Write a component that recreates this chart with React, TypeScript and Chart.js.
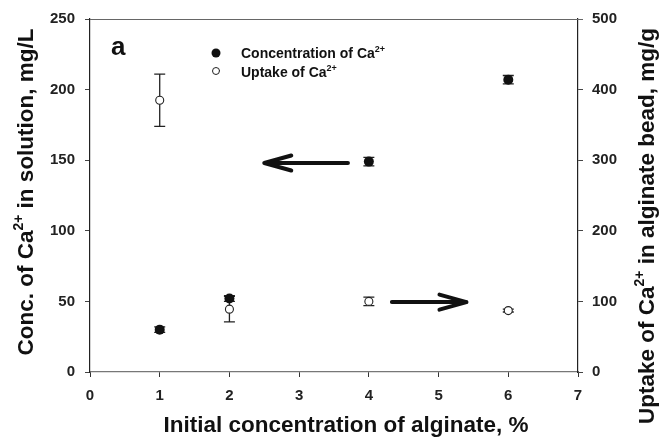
import React, { useEffect, useRef } from "react";
import { Chart, registerables } from "chart.js";

Chart.register(...registerables);

const alginate = [1, 2, 4, 6];
const concCa = [30, 52, 149, 207];
const concErr = [2, 2, 3, 3];
const uptakeCa = [385, 89, 100, 87];
const uptakeErr = [37, 18, 6, 2];

const xTicks = [0, 1, 2, 3, 4, 5, 6, 7];
const arrowFromX = [3.7, 4.33];
const arrowToX = [2.5, 5.4];
const arrowY = [148, 49.5];

const FONT = "'Liberation Sans', Arial, sans-serif";

function drawSup(ctx: CanvasRenderingContext2D, parts: [string, boolean][], size: number, x: number, y: number, align: "center" | "left") {
  const supSize = Math.round(size * 0.62);
  let total = 0;
  for (const [t, sup] of parts) {
    ctx.font = `bold ${sup ? supSize : size}px ${FONT}`;
    total += ctx.measureText(t).width;
  }
  let cx = align === "center" ? x - total / 2 : x;
  ctx.textAlign = "left";
  ctx.textBaseline = "alphabetic";
  for (const [t, sup] of parts) {
    ctx.font = `bold ${sup ? supSize : size}px ${FONT}`;
    ctx.fillText(t, cx, sup ? y - size * 0.45 : y);
    cx += ctx.measureText(t).width;
  }
}

const overlay = {
  id: "overlay",
  afterDatasetsDraw(chart: any) {
    const ctx = chart.ctx as CanvasRenderingContext2D;
    const xs = chart.scales.x;
    const yl = chart.scales.y;
    const yr = chart.scales.y2;
    const area = chart.chartArea;
    ctx.save();
    // frame top line
    ctx.strokeStyle = "#666";
    ctx.lineWidth = 1.2;
    ctx.beginPath();
    ctx.moveTo(area.left, area.top + 0.5);
    ctx.lineTo(area.right + 5, area.top + 0.5);
    ctx.stroke();

    // error bars
    const drawErr = (x: number, y: number, e: number, sc: any) => {
      const px = xs.getPixelForValue(x);
      const p1 = sc.getPixelForValue(y - e);
      const p2 = sc.getPixelForValue(y + e);
      ctx.strokeStyle = "#222";
      ctx.lineWidth = 1.3;
      ctx.beginPath();
      ctx.moveTo(px, p1);
      ctx.lineTo(px, p2);
      ctx.moveTo(px - 5.5, p1);
      ctx.lineTo(px + 5.5, p1);
      ctx.moveTo(px - 5.5, p2);
      ctx.lineTo(px + 5.5, p2);
      ctx.stroke();
    };
    alginate.forEach((x, i) => drawErr(x, uptakeCa[i], uptakeErr[i], yr));
    alginate.forEach((x, i) => drawErr(x, concCa[i], concErr[i], yl));

    // markers on top of error bars
    alginate.forEach((x, i) => {
      const px = xs.getPixelForValue(x);
      const py = yr.getPixelForValue(uptakeCa[i]);
      ctx.beginPath();
      ctx.arc(px, py, 4, 0, Math.PI * 2);
      ctx.fillStyle = "#fff";
      ctx.fill();
      ctx.strokeStyle = "#222";
      ctx.lineWidth = 1.1;
      ctx.stroke();
    });
    alginate.forEach((x, i) => {
      const px = xs.getPixelForValue(x);
      const py = yl.getPixelForValue(concCa[i]);
      ctx.beginPath();
      ctx.arc(px, py, 5, 0, Math.PI * 2);
      ctx.fillStyle = "#111";
      ctx.fill();
    });

    // arrows
    arrowFromX.forEach((fx, i) => {
      const x1 = xs.getPixelForValue(fx);
      const x2 = xs.getPixelForValue(arrowToX[i]);
      const y = yl.getPixelForValue(arrowY[i]);
      const dir = x2 > x1 ? 1 : -1;
      ctx.strokeStyle = "#111";
      ctx.lineWidth = 4;
      ctx.lineCap = "round";
      ctx.lineJoin = "round";
      ctx.beginPath();
      ctx.moveTo(x1, y);
      ctx.lineTo(x2, y);
      ctx.moveTo(x2 - dir * 27, y - 7.5);
      ctx.lineTo(x2, y);
      ctx.lineTo(x2 - dir * 27, y + 7.5);
      ctx.stroke();
    });

    // panel label
    ctx.fillStyle = "#111";
    ctx.font = `bold 26px ${FONT}`;
    ctx.textAlign = "left";
    ctx.textBaseline = "alphabetic";
    ctx.fillText("a", 111, 55);

    // legend
    ctx.beginPath();
    ctx.arc(216, 53, 4.5, 0, Math.PI * 2);
    ctx.fillStyle = "#111";
    ctx.fill();
    ctx.beginPath();
    ctx.arc(216, 71, 3.5, 0, Math.PI * 2);
    ctx.fillStyle = "#fff";
    ctx.fill();
    ctx.strokeStyle = "#222";
    ctx.lineWidth = 1;
    ctx.stroke();
    ctx.fillStyle = "#111";
    drawSup(ctx, [["Concentration of Ca", false], ["2+", true]], 14, 241, 58, "left");
    drawSup(ctx, [["Uptake of Ca", false], ["2+", true]], 14, 241, 77, "left");

    // axis titles
    const TS = 22.5;
    ctx.fillStyle = "#111";
    drawSup(ctx, [["Initial concentration of alginate, %", false]], TS, 346, 432, "center");
    ctx.save();
    ctx.translate(33, 192);
    ctx.rotate(-Math.PI / 2);
    drawSup(ctx, [["Conc. of Ca", false], ["2+", true], [" in solution, mg/L", false]], TS, 0, 0, "center");
    ctx.restore();
    ctx.save();
    ctx.translate(654, 226);
    ctx.rotate(-Math.PI / 2);
    drawSup(ctx, [["Uptake of Ca", false], ["2+", true], [" in alginate bead, mg/g", false]], TS, 0, 0, "center");
    ctx.restore();

    ctx.restore();
  },
};

export default function App() {
  const ref = useRef<HTMLCanvasElement | null>(null);
  useEffect(() => {
    if (!ref.current) return;
    const tickFont = { family: FONT, size: 15, weight: "bold" as const };
    const chart = new Chart(ref.current, {
      type: "scatter",
      data: {
        datasets: [
          {
            label: "Concentration of Ca2+",
            data: alginate.map((x, i) => ({ x, y: concCa[i] })),
            yAxisID: "y",
            pointRadius: 0,
            backgroundColor: "#111",
          },
          {
            label: "Uptake of Ca2+",
            data: alginate.map((x, i) => ({ x, y: uptakeCa[i] })),
            yAxisID: "y2",
            pointRadius: 0,
            backgroundColor: "#fff",
          },
        ],
      },
      options: {
        animation: false,
        responsive: false,
        layout: { padding: { top: 19, left: 0, right: 0, bottom: 0 } },
        plugins: { legend: { display: false }, tooltip: { enabled: false } },
        scales: {
          x: {
            type: "linear",
            min: 0,
            max: 7,
            afterBuildTicks: (s: any) => {
              s.ticks = xTicks.map((v) => ({ value: v }));
            },
            afterFit: (s: any) => {
              s.height = 67;
            },
            ticks: { font: tickFont, color: "#222", padding: 10, maxRotation: 0 },
            grid: { drawOnChartArea: false, drawTicks: true, tickLength: 5, color: "#333" },
            border: { display: true, color: "#777", width: 1.2 },
          },
          y: {
            type: "linear",
            position: "left",
            min: 0,
            max: 250,
            ticks: { stepSize: 50, font: tickFont, color: "#222", padding: 10 },
            afterFit: (s: any) => {
              s.width = 90;
            },
            grid: { drawOnChartArea: false, drawTicks: true, tickLength: 5, color: "#444" },
            border: { display: true, color: "#222", width: 1.2 },
          },
          y2: {
            type: "linear",
            position: "right",
            min: 0,
            max: 500,
            ticks: { stepSize: 100, font: tickFont, color: "#222", padding: 9 },
            afterFit: (s: any) => {
              s.width = 81;
            },
            grid: { drawOnChartArea: false, drawTicks: true, tickLength: 5, color: "#444" },
            border: { display: true, color: "#222", width: 1.2 },
          },
        },
      },
      plugins: [overlay],
    });
    return () => chart.destroy();
  }, []);
  return (
    <div style={{ position: "absolute", left: 0, top: 0, width: 659, height: 439, background: "#fff" }}>
      <canvas ref={ref} width={659} height={439} style={{ display: "block" }} />
    </div>
  );
}
